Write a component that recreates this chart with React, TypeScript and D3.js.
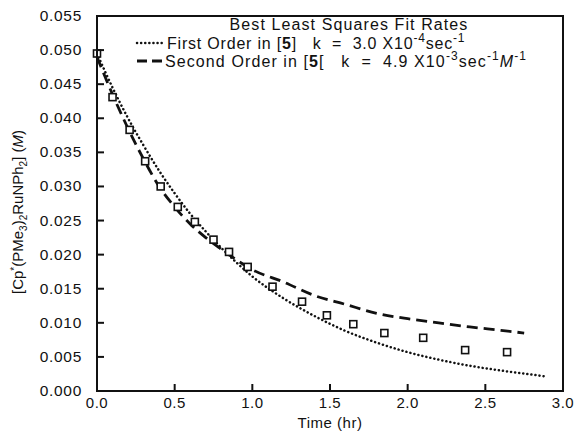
import React from 'react';
import * as d3 from 'd3';

// observed concentrations (open squares)
const obsTime = [0, 0.10, 0.21, 0.31, 0.41, 0.52, 0.63, 0.75, 0.85, 0.97, 1.13, 1.32, 1.48, 1.65, 1.85, 2.10, 2.37, 2.64];
const obsConc = [0.0495, 0.0431, 0.0383, 0.0337, 0.0300, 0.0270, 0.0248, 0.0222, 0.0204, 0.0182, 0.0153, 0.0131, 0.0111, 0.0098, 0.0085, 0.0078, 0.0060, 0.0057];

// first order fit (dotted)
const firstTime = [0, 0.1, 0.2, 0.3, 0.4, 0.5, 0.6, 0.7, 0.8, 0.9, 1.0, 1.2, 1.4, 1.6, 1.8, 2.0, 2.2, 2.4, 2.6, 2.8, 2.9];
const firstConc = [0.0495, 0.0445, 0.0400, 0.0360, 0.0323, 0.0290, 0.0260, 0.0234, 0.0210, 0.0188, 0.0168, 0.0136, 0.0110, 0.0088, 0.0071, 0.0057, 0.0046, 0.0037, 0.0030, 0.0024, 0.0021];

// second order fit (dashed)
const secondTime = [0, 0.1, 0.2, 0.3, 0.4, 0.5, 0.6, 0.7, 0.8, 0.9, 1.0, 1.2, 1.4, 1.6, 1.8, 2.0, 2.2, 2.4, 2.6, 2.75];
const secondConc = [0.0490, 0.0435, 0.0385, 0.0340, 0.0300, 0.0270, 0.0245, 0.0225, 0.0208, 0.0192, 0.0178, 0.0160, 0.0140, 0.0127, 0.0114, 0.0106, 0.0100, 0.0094, 0.0089, 0.0085];

const xTicks = [0, 0.5, 1.0, 1.5, 2.0, 2.5, 3.0];
const yTicks = [0, 0.005, 0.010, 0.015, 0.020, 0.025, 0.030, 0.035, 0.040, 0.045, 0.050, 0.055];

const font = '"Liberation Sans", Arial, Helvetica, sans-serif';

export default function App() {
  const width = 582, height = 441;
  const left = 97, right = 563, top = 16, bottom = 391;

  const x = d3.scaleLinear().domain([0, 3]).range([left, right]);
  const y = d3.scaleLinear().domain([0, 0.055]).range([bottom, top]);

  const line = d3.line<number>()
    .x((d) => x(d[0]))
    .y((d) => y(d[1]))
    .curve(d3.curveMonotoneX);

  const firstPath = line(firstTime.map((t, i) => [t, firstConc[i]]) as any);
  const secondPath = line(secondTime.map((t, i) => [t, secondConc[i]]) as any);

  const sq = 7;

  return (
    <svg width={width} height={height} style={{ position: 'absolute', left: 0, top: 0, background: '#fff' }}
      fontFamily={font}>
      <rect x={0} y={0} width={width} height={height} fill="#fff" />

      {/* fit curves */}
      <path d={firstPath} fill="none" stroke="#111" strokeWidth={2.5} strokeDasharray="0.1 4" strokeLinecap="round" />
      <path d={secondPath} fill="none" stroke="#111" strokeWidth={2.8} strokeDasharray="11 6" />

      {/* observed points */}
      {obsTime.map((t, i) => (
        <rect key={i} x={x(t) - sq / 2} y={y(obsConc[i]) - sq / 2} width={sq} height={sq}
          fill="#fff" stroke="#111" strokeWidth={1.6} />
      ))}

      {/* frame */}
      <rect x={left} y={top} width={right - left} height={bottom - top} fill="none" stroke="#111" strokeWidth={2} />

      {/* ticks */}
      {xTicks.slice(1, -1).map((t) => (
        <line key={'xt' + t} x1={x(t)} x2={x(t)} y1={bottom} y2={bottom - 7} stroke="#111" strokeWidth={2} />
      ))}
      {yTicks.slice(1, -1).map((t) => (
        <line key={'yt' + t} x1={left} x2={left + 7} y1={y(t)} y2={y(t)} stroke="#111" strokeWidth={2} />
      ))}

      {xTicks.map((t) => (
        <text key={'xl' + t} x={x(t)} y={bottom + 17} textAnchor="middle" fontSize={15} letterSpacing={0.5} fill="#111">
          {d3.format('.1f')(t)}
        </text>
      ))}
      {yTicks.map((t) => (
        <text key={'yl' + t} x={left - 15} y={y(t) + 5} textAnchor="end" fontSize={15.5} letterSpacing={0.7} fill="#111">
          {d3.format('.3f')(t)}
        </text>
      ))}

      <text x={(left + right) / 2} y={428} textAnchor="middle" fontSize={15} letterSpacing={0.5} fill="#111">Time (hr)</text>

      <text transform="translate(23, 212) rotate(-90)" textAnchor="middle" fontSize={15} fill="#111">
        [Cp<tspan dy={-5} fontSize={10}>*</tspan><tspan dy={5}>(PMe</tspan>
        <tspan dy={4} fontSize={10}>3</tspan><tspan dy={-4}>)</tspan>
        <tspan dy={4} fontSize={10}>2</tspan><tspan dy={-4}>RuNPh</tspan>
        <tspan dy={4} fontSize={10}>2</tspan><tspan dy={-4}>] (</tspan>
        <tspan fontStyle="italic">M</tspan>)
      </text>

      {/* legend */}
      <text x={349} y={30} textAnchor="middle" fontSize={16} letterSpacing={1.1} fill="#111">Best Least Squares Fit Rates</text>

      <line x1={137} x2={162} y1={43} y2={43} stroke="#111" strokeWidth={2.5} strokeDasharray="0.1 4" strokeLinecap="round" />
      <text x={167} y={49} fontSize={16} letterSpacing={0.8} fill="#111" style={{ whiteSpace: 'pre' }}>
        First Order in [<tspan fontWeight="bold">5</tspan>]   k  =  3.0 X10<tspan dy={-7} fontSize={12}>-4</tspan>
        <tspan dy={7}>sec</tspan><tspan dy={-7} fontSize={12}>-1</tspan>
      </text>

      <line x1={137} x2={162} y1={61} y2={61} stroke="#111" strokeWidth={2.8} strokeDasharray="10 5" />
      <text x={165} y={67} fontSize={16} letterSpacing={1.1} fill="#111" style={{ whiteSpace: 'pre' }}>
        Second Order in [<tspan fontWeight="bold">5</tspan>[   k  =  4.9 X10<tspan dy={-7} fontSize={12}>-3</tspan>
        <tspan dy={7}>sec</tspan><tspan dy={-7} fontSize={12}>-1</tspan>
        <tspan dy={7} fontStyle="italic">M</tspan><tspan dy={-7} fontSize={12}>-1</tspan>
      </text>
    </svg>
  );
}
